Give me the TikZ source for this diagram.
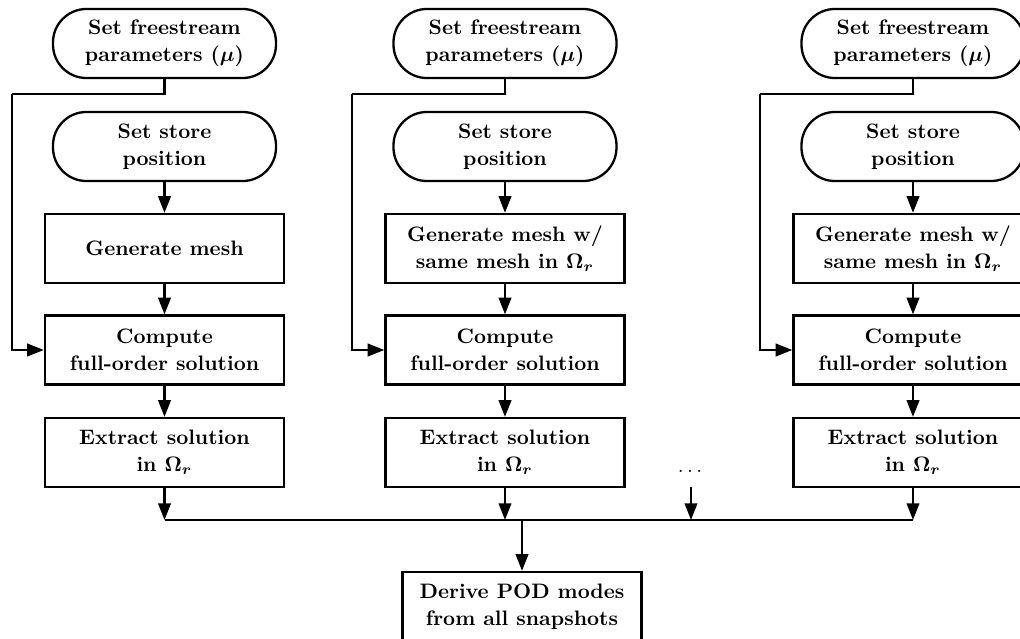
\documentclass[tikz,border=0pt]{standalone}
\usetikzlibrary{arrows.meta}
\begin{document}
\begin{tikzpicture}[x=0.478pt,y=-0.478pt,
  every node/.style={font=\fontsize{10}{13}\selectfont\bfseries\boldmath, align=center},
  proc/.style={draw, line width=1.1pt, minimum width=114.2pt, minimum height=33pt, inner sep=2pt},
  term/.style={draw, line width=1.1pt, minimum width=106.6pt, minimum height=33pt, rounded corners=16pt, inner sep=2pt},
  conn/.style={line width=1.1pt},
  arr/.style={conn, -{Triangle[length=8pt,width=6pt]}}]
\useasboundingbox (0,0) rectangle (1020,639);

% column 1
\node[term] (f1) at (164.5,43.5) {Set freestream\\parameters ($\mu$)};
\node[term] (s1) at (164.5,146.5) {Set store\\position};
\node[proc] (g1) at (164.5,248.5) {Generate mesh};
\node[proc] (c1) at (164.5,350) {Compute\\full-order solution};
\node[proc] (e1) at (164.5,452.5) {Extract solution\\in $\Omega_r$};
\coordinate (k1) at (12,94);

% column 2
\node[term] (f2) at (505,43.5) {Set freestream\\parameters ($\mu$)};
\node[term] (s2) at (505,146.5) {Set store\\position};
\node[proc] (g2) at (505,248.5) {Generate mesh w/\\same mesh in $\Omega_r$};
\node[proc] (c2) at (505,350) {Compute\\full-order solution};
\node[proc] (e2) at (505,452.5) {Extract solution\\in $\Omega_r$};
\coordinate (k2) at (352,94);

% column 3
\node[term] (f3) at (913,43.5) {Set freestream\\parameters ($\mu$)};
\node[term] (s3) at (913,146.5) {Set store\\position};
\node[proc] (g3) at (913,248.5) {Generate mesh w/\\same mesh in $\Omega_r$};
\node[proc] (c3) at (913,350) {Compute\\full-order solution};
\node[proc] (e3) at (913,452.5) {Extract solution\\in $\Omega_r$};
\coordinate (k3) at (760,94);

% dots and final
\node[font=\normalfont] (dots) at (690,471) {$\dots$};
\coordinate (d0) at (691,487);
\coordinate (bus) at (0,520);
\node[proc] (pod) at (522,606.5) {Derive POD modes\\from all snapshots};

\foreach \i in {1,2,3}{
  \draw[conn] (f\i.south) |- (k\i);
  \draw[arr] (k\i) |- (c\i.west);
  \draw[arr] (s\i) -- (g\i);
  \draw[arr] (g\i) -- (c\i);
  \draw[arr] (c\i) -- (e\i);
  \draw[arr] (e\i.south) -- (e\i.south |- bus);
}
\draw[arr] (d0) -- (d0 |- bus);
\draw[conn] (e1.south |- bus) -- (e3.south |- bus);
\draw[arr] (pod.north |- bus) -- (pod.north);
\end{tikzpicture}
\end{document}
